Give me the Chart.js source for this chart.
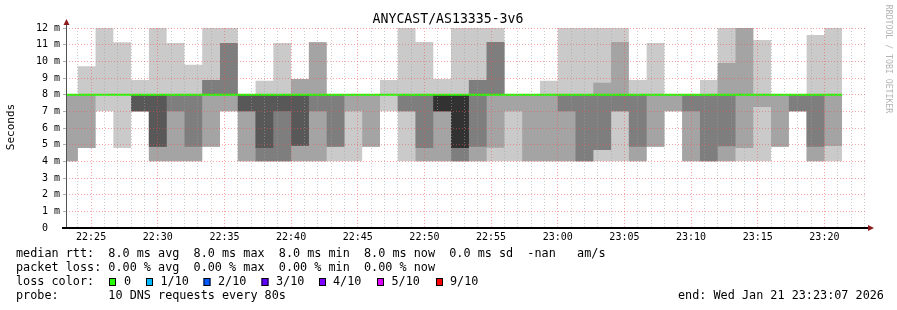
<!DOCTYPE html>
<html>
<head>
<meta charset="utf-8">
<title>ANYCAST/AS13335-3v6</title>
<script src="https://cdn.jsdelivr.net/npm/chart.js@4.4.1/dist/chart.umd.min.js"></script>
<style>
  html, body { margin: 0; padding: 0; background: #ffffff; }
  #wrap { width: 897px; height: 310px; }
</style>
</head>
<body>
<div id="wrap"><canvas id="smoke" width="897" height="310"></canvas></div>
<script>
// smokeping graph, 10 pings every 80s, one hour window
const graphStart = '22:23:07';
const graphEnd = '23:23:07';
const lastUpdate = '23:21:20';

const slotStart = [
  '22:23:07', '22:24:00', '22:25:20', '22:26:40', '22:28:00', '22:29:20', '22:30:40', '22:32:00',
  '22:33:20', '22:34:40', '22:36:00', '22:37:20', '22:38:40', '22:40:00', '22:41:20', '22:42:40',
  '22:44:00', '22:45:20', '22:46:40', '22:48:00', '22:49:20', '22:50:40', '22:52:00', '22:53:20',
  '22:54:40', '22:56:00', '22:57:20', '22:58:40', '23:00:00', '23:01:20', '23:02:40', '23:04:00',
  '23:05:20', '23:06:40', '23:08:00', '23:09:20', '23:10:40', '23:12:00', '23:13:20', '23:14:40',
  '23:16:00', '23:17:20', '23:18:40', '23:20:00'
];

// sorted ping times per slot (ms), ping1 = fastest ... ping10 = slowest
const ping1 = [4, 4.8, 7, 4.8, 7, 4, 4, 4, 4.88, 7, 4, 4, 4, 4, 4, 4, 4, 4.88, 7, 4, 4, 4, 4, 4, 4, 4, 4, 4, 4, 4, 4, 4, 4, 4.88, 7, 4, 4, 4, 4, 4, 4.88, 7, 4, 4];
const ping2 = [4, 4.8, 8, 8, 7, 4, 4, 4, 4.88, 7, 4, 4, 4, 4, 4, 4.88, 7, 4.88, 8, 7, 4, 4, 4, 4, 4.82, 7, 4, 4, 4, 4, 4.68, 7, 4, 4.88, 7, 4, 4, 4, 4.8, 7.26, 4.88, 7, 4, 4.92];
const ping3 = [8, 8, 8, 8, 7, 4.88, 7, 4.88, 8, 8, 7, 4, 4, 4.94, 7, 4.88, 8, 8, 8, 7, 4.8, 7, 4, 4.88, 8, 8, 8, 8, 7, 4, 4.68, 7, 4.88, 8, 8, 7, 4, 4.9, 8, 8, 8, 7, 4.88, 8];
const ping4 = [8, 8, 8, 8, 7, 4.88, 8, 8, 8, 8, 7, 4.8, 7, 4.94, 8, 8, 8, 8, 8, 8, 8, 7, 4.8, 8, 8, 8, 8, 8, 8, 8, 8, 8, 8, 8, 8, 8, 8, 8, 8, 8, 8, 8, 8, 8];
const ping5 = [8, 8, 8, 8, 8, 8, 8, 8, 8, 8, 8, 8, 8, 8, 8, 8, 8, 8, 8, 8, 8, 7, 4.8, 8, 8, 8, 8, 8, 8, 8, 8, 8, 8, 8, 8, 8, 8, 8, 8, 8, 8, 8, 8, 8];
const ping6 = [8, 8, 8, 8, 8, 8, 8, 8, 8, 8, 8, 8, 8, 8, 8, 8, 8, 8, 8, 8, 8, 8, 8, 8, 8, 8, 8, 8, 8, 8, 8, 8, 8, 8, 8, 8, 8, 8, 8, 8, 8, 8, 8, 8];
const ping7 = [8, 8, 8, 8, 8, 8, 8, 8, 8, 8, 8, 8, 8, 8, 8, 8, 8, 8, 8, 8, 8, 8, 8, 8, 8, 8, 8, 8, 8, 8, 8, 8, 8, 8, 8, 8, 8, 8, 8, 8, 8, 8, 8, 8];
const ping8 = [8, 8, 8, 8, 8, 8, 8, 8, 8.88, 11.1, 8, 8, 8, 8, 8, 8, 8, 8, 8, 8, 8, 8, 8, 8.88, 11.16, 8, 8, 8, 8, 8, 8, 8, 8, 8, 8, 8, 8, 8, 8, 8, 8, 8, 8, 8];
const ping9 = [8, 8, 8, 8, 8, 8, 8, 8, 8.88, 11.1, 8, 8, 8, 8.94, 11.15, 8, 8, 8, 8, 8, 8, 8, 8, 8.88, 11.16, 8, 8, 8, 8, 8, 8.72, 11.16, 8, 8, 8, 8, 8, 9.9, 12, 8, 8, 8, 8, 8];
const ping10 = [8, 9.7, 12, 11.15, 8.88, 12, 11.1, 9.8, 12, 12, 8, 8.84, 11.1, 8.94, 11.15, 8, 8, 8, 8.88, 12, 11.16, 8.94, 12, 12, 12, 8, 8, 8.84, 12, 12, 12, 12, 8.88, 11.1, 8, 8, 8.88, 12, 12, 11.28, 8, 8, 11.58, 12];
const medianRtt = [8, 8, 8, 8, 8, 8, 8, 8, 8, 8, 8, 8, 8, 8, 8, 8, 8, 8, 8, 8, 8, 8, 8, 8, 8, 8, 8, 8, 8, 8, 8, 8, 8, 8, 8, 8, 8, 8, 8, 8, 8, 8, 8, 8];

const smokeShades = ['#cacaca', '#a4a4a4', '#7e7e7e', '#585858', '#323232'];
const lossLabels = ['0', '1/10', '2/10', '3/10', '4/10', '5/10', '9/10'];
const lossColors = ['#26ff00', '#00b8ff', '#0059ff', '#5e00ff', '#7e00ff', '#dd00ff', '#ff0000'];

const MAJOR = 'rgba(240,80,80,0.5)';
const MINOR = 'rgba(160,160,160,0.55)';
const MONO = 'DejaVu Sans Mono';

// minutes after 22:00
function toMin(t) {
  const p = t.split(':').map(Number);
  return (p[0] - 22) * 60 + p[1] + p[2] / 60;
}

function toPoints(values) {
  const pts = values.map((v, i) => ({ x: toMin(slotStart[i]), y: v }));
  pts.push({ x: toMin(lastUpdate), y: values[values.length - 1] });
  return pts;
}

const pings = [ping1, ping2, ping3, ping4, ping5, ping6, ping7, ping8, ping9, ping10];
const datasets = [];
for (let i = 0; i < 5; i++) {
  datasets.push({
    label: 'smoke ' + (i + 1) + ' high',
    data: toPoints(pings[9 - i]),
    fill: '+1',
    backgroundColor: smokeShades[i],
    borderColor: 'transparent',
    borderWidth: 0,
    pointRadius: 0,
    stepped: true,
    order: 6 - i
  });
  datasets.push({
    label: 'smoke ' + (i + 1) + ' low',
    data: toPoints(pings[i]),
    fill: false,
    borderColor: 'transparent',
    borderWidth: 0,
    pointRadius: 0,
    stepped: true,
    order: 6 - i
  });
}
datasets.push({
  label: 'median rtt',
  data: toPoints(medianRtt),
  fill: false,
  borderColor: '#26ff00',
  borderWidth: 2,
  pointRadius: 0,
  stepped: true,
  order: 0
});

// title, axis lines, arrows and the text block under the graph
const rrdDecor = {
  id: 'rrdDecor',
  afterDraw(chart) {
    const ctx = chart.ctx;
    const { left, right, top, bottom } = chart.chartArea;
    ctx.save();

    ctx.strokeStyle = '#505050';
    ctx.lineWidth = 1;
    ctx.beginPath();
    ctx.moveTo(left + 0.5, bottom);
    ctx.lineTo(left + 0.5, top - 3);
    ctx.stroke();

    ctx.strokeStyle = '#000000';
    ctx.lineWidth = 2;
    ctx.beginPath();
    ctx.moveTo(left - 4, bottom);
    ctx.lineTo(right + 2, bottom);
    ctx.stroke();

    ctx.fillStyle = '#8c1c1c';
    ctx.beginPath();
    ctx.moveTo(left - 2.5, top - 3);
    ctx.lineTo(left + 3.5, top - 3);
    ctx.lineTo(left + 0.5, top - 9);
    ctx.closePath();
    ctx.fill();
    ctx.beginPath();
    ctx.moveTo(right + 2, bottom - 3);
    ctx.lineTo(right + 2, bottom + 3);
    ctx.lineTo(right + 8, bottom);
    ctx.closePath();
    ctx.fill();

    ctx.fillStyle = '#000000';
    ctx.textAlign = 'center';
    ctx.textBaseline = 'middle';
    ctx.font = '13.2px "' + MONO + '"';
    ctx.fillText('ANYCAST/AS13335-3v6', 448, 20);

    ctx.save();
    ctx.translate(11, 127);
    ctx.rotate(-Math.PI / 2);
    ctx.font = '11px "' + MONO + '"';
    ctx.fillText('Seconds', 0, 0);
    ctx.restore();

    ctx.save();
    ctx.translate(888, 59);
    ctx.rotate(Math.PI / 2);
    ctx.fillStyle = '#b4b4b4';
    ctx.font = '8.2px "' + MONO + '"';
    ctx.fillText('RRDTOOL / TOBI OETIKER', 0, 0);
    ctx.restore();

    ctx.textAlign = 'left';
    ctx.textBaseline = 'alphabetic';
    ctx.font = '11.8px "' + MONO + '"';
    ctx.fillStyle = '#000000';
    ctx.fillText('median rtt:  8.0 ms avg  8.0 ms max  8.0 ms min  8.0 ms now  0.0 ms sd  -nan   am/s', 16, 257);
    ctx.fillText('packet loss: 0.00 % avg  0.00 % max  0.00 % min  0.00 % now', 16, 271);
    ctx.fillText('loss color:', 16, 285);
    ctx.fillText('probe:       10 DNS requests every 80s', 16, 299);
    ctx.fillText('end: Wed Jan 21 23:23:07 2026', 678, 299);

    const boxX = [109, 146, 203.5, 261.5, 319, 377, 436];
    const textX = [124, 160.5, 218, 276, 333, 391.5, 450];
    lossLabels.forEach((lab, i) => {
      ctx.fillStyle = lossColors[i];
      ctx.fillRect(boxX[i], 278, 7, 8);
      ctx.strokeStyle = '#000000';
      ctx.lineWidth = 1;
      ctx.strokeRect(boxX[i] + 0.5, 278.5, 6, 7);
      ctx.fillStyle = '#000000';
      ctx.fillText(lab, textX[i], 285);
    });

    ctx.restore();
  }
};

new Chart(document.getElementById('smoke'), {
  type: 'line',
  data: { datasets: datasets },
  options: {
    responsive: false,
    devicePixelRatio: 1,
    animation: false,
    layout: { padding: { left: 0, right: 31, top: 28, bottom: 62 } },
    plugins: {
      legend: { display: false },
      tooltip: { enabled: false }
    },
    scales: {
      x: {
        type: 'linear',
        min: toMin(graphStart),
        max: toMin(graphEnd) + 0.004,
        grid: {
          color: c => (c.tick && Math.round(c.tick.value) % 5 === 0 ? MAJOR : MINOR),
          lineWidth: 1,
          drawTicks: false,
          borderDash: [1, 2],
          z: 1
        },
        border: { display: false, dash: [1, 2] },
        ticks: {
          stepSize: 1,
          includeBounds: false,
          autoSkip: false,
          maxRotation: 0,
          padding: 3,
          color: '#000000',
          font: { family: MONO, size: 10 },
          callback: v => {
            const m = Math.round(v);
            if (m % 5 !== 0) return '';
            return (22 + Math.floor(m / 60)) + ':' + String(m % 60).padStart(2, '0');
          }
        },
        afterFit: s => { s.height = 20; }
      },
      y: {
        min: 0,
        max: 12,
        grid: {
          color: c => (c.tick && Number.isInteger(c.tick.value) ? MAJOR : MINOR),
          lineWidth: 1,
          drawTicks: true,
          tickLength: 3,
          tickColor: '#b0b0b0',
          borderDash: [1, 2],
          z: 1
        },
        border: { display: false, dash: [1, 2] },
        ticks: {
          stepSize: 0.5,
          padding: 3,
          color: '#000000',
          font: { family: MONO, size: 10 },
          callback: v => (Number.isInteger(v) ? (v === 0 ? '0  ' : v + ' m') : '')
        },
        afterFit: s => { s.width = 66; }
      }
    }
  },
  plugins: [rrdDecor]
});
</script>
</body>
</html>
